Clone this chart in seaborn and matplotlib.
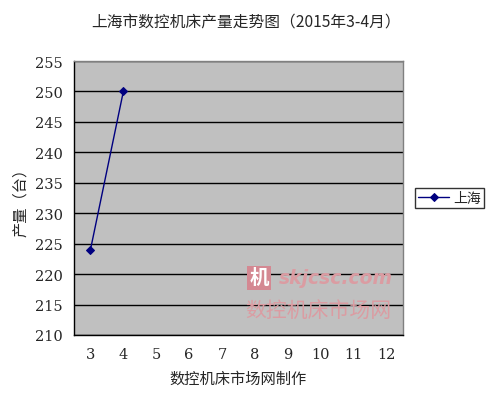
import matplotlib
matplotlib.use("Agg")
import matplotlib.pyplot as plt
import seaborn as sns
import pandas as pd

months = [3, 4]
values = [224, 250]
series_name = "上海"
x_ticks = [3, 4, 5, 6, 7, 8, 9, 10, 11, 12]
y_ticks = [210, 215, 220, 225, 230, 235, 240, 245, 250, 255]
title = "上海市数控机床产量走势图（2015年3-4月）"
xlabel = "数控机床市场网制作"
ylabel = "产量（台）"

sns.set_theme(style="white")
plt.rcParams['font.family'] = ['Noto Sans CJK SC', 'DejaVu Sans']

df = pd.DataFrame({"month": months, "value": values, "series": series_name})

fig = plt.figure(figsize=(4.92, 4.02), dpi=100)
fig.patch.set_facecolor("white")
ax = fig.add_axes([74/492, 1-336/402, 329/492, 274/402])
ax.set_facecolor("#C0C0C0")

for yv in y_ticks:
    ax.axhline(yv, color="black", lw=1.0, zorder=1)

sns.lineplot(data=df, x="month", y="value", hue="series", palette=["#000080"],
             marker="D", markersize=4.5, markeredgecolor="#000080", lw=1.0,
             ax=ax, zorder=3)

ax.set_xlim(2.5, 12.5)
ax.set_ylim(210, 255)
ax.set_xticks(x_ticks)
ax.set_xticklabels([str(t) for t in x_ticks], fontsize=10.5, family="DejaVu Serif")
ax.set_yticks(y_ticks)
ax.set_yticklabels([str(t) for t in y_ticks], fontsize=10.5, family="DejaVu Serif")
ax.set_xticks([x + 0.5 for x in x_ticks[:-1]] + [2.5], minor=True)
ax.tick_params(axis="x", which="major", length=0, pad=9)
ax.tick_params(axis="x", which="minor", length=4, direction="in", color="black", width=1)
ax.tick_params(axis="y", which="major", length=0, pad=8)

for s in ["left", "bottom"]:
    ax.spines[s].set_color("black")
    ax.spines[s].set_linewidth(1.0)
for s in ["top", "right"]:
    ax.spines[s].set_color("#808080")
    ax.spines[s].set_linewidth(1.0)

ax.set_xlabel(xlabel, fontsize=11, labelpad=6)
ax.set_ylabel(ylabel, fontsize=11, labelpad=4)
fig.text(0.5, 1-22/402, title, ha="center", va="center", fontsize=11.3)

leg = ax.legend(loc="center left", bbox_to_anchor=(415/492, 1-199/402),
                bbox_transform=fig.transFigure, frameon=True, borderaxespad=0,
                fancybox=False, edgecolor="black", fontsize=10, handlelength=2.2,
                borderpad=0.25, handletextpad=0.3)
leg.get_frame().set_linewidth(1.0)

# watermark
fig.text(259/492, 1-279/402, "机", ha="center", va="center", fontsize=14,
         color="white", fontweight="bold",
         bbox=dict(boxstyle="square,pad=0.12", fc="#D48892", ec="none"))
fig.text(279/492, 1-279/402, "skjcsc.com", ha="left", va="center", fontsize=13.5,
         color="#DB9CA2", style="italic", fontweight="bold", family="DejaVu Sans")
fig.text(318/492, 1-311/402, "数控机床市场网", ha="center", va="center", fontsize=15,
         color="#DB9CA2")

fig.savefig("out.png", dpi=100)
